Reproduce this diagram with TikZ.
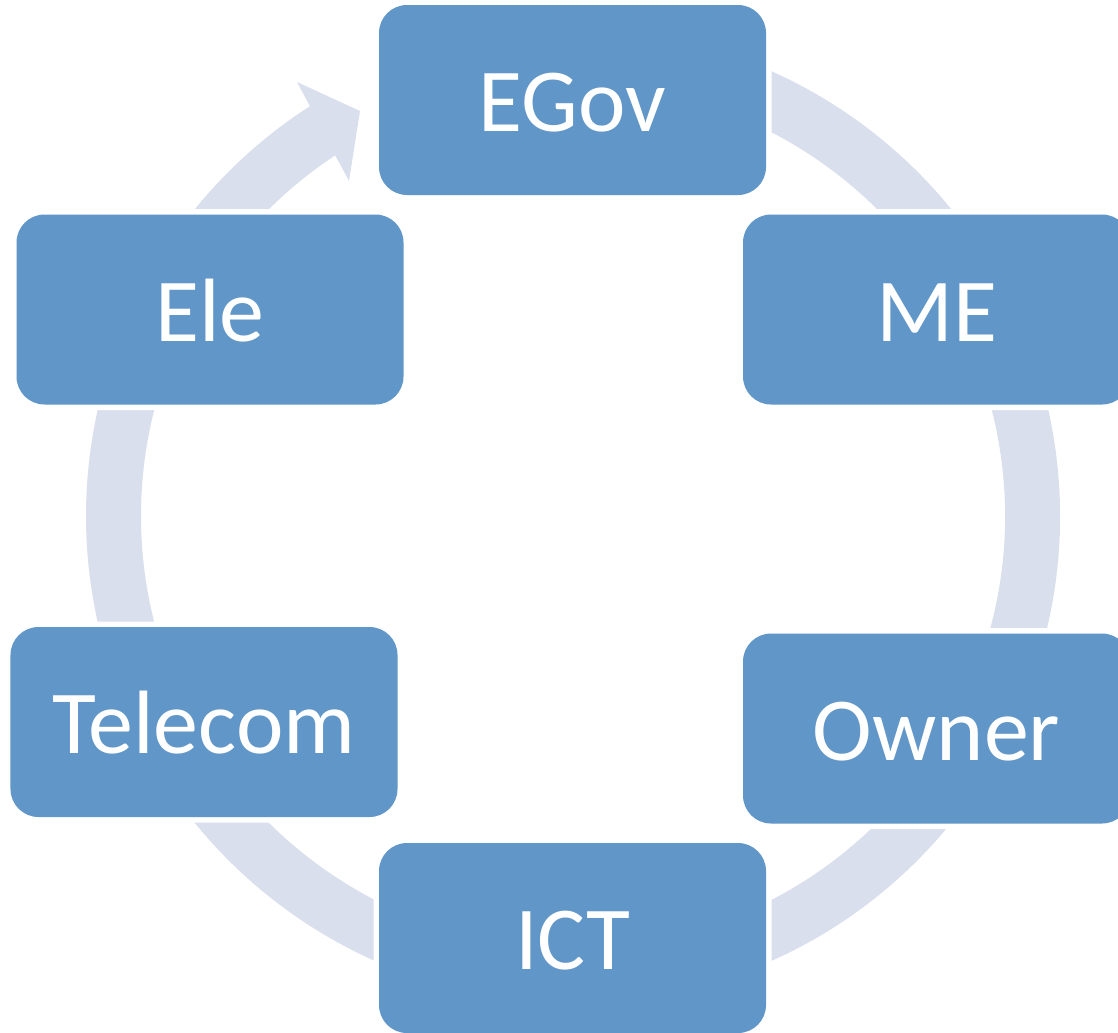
\documentclass[tikz,border=0pt]{standalone}
\usepackage{fontspec}
\setmainfont{Carlito}

\definecolor{boxblue}{RGB}{96,150,200}
\definecolor{ringblue}{RGB}{218,223,237}

\tikzset{
    stage/.style={rounded corners=0.28cm, fill=boxblue, text=white,
        minimum width=3.87cm, minimum height=1.90cm, inner sep=0pt,
        text height=0.63cm, text depth=0pt,
        font=\fontsize{25.6}{30}\selectfont,
        preaction={draw=white, line width=0.11cm}},
    ring/.style={draw=ringblue, line width=0.55cm}
}

\begin{document}
\begin{tikzpicture}[scale=1]
    % Picture frame
    \clip (0,0) rectangle (11.18,10.32);

    % Centre of the cycle
    \coordinate (C) at (5.73,5.16);

    % Ring behind the boxes
    \draw[ring] ([shift={(C)}]100:4.595) arc[start angle=100, end angle=-200, radius=4.595];

    % Arrow piece from Ele to EGov
    \coordinate (flare) at (2.97,9.50);
    \coordinate (tip) at (3.60,9.21);
    \coordinate (back) at (3.49,8.51);
    \fill[ringblue] ([shift={(C)}]165:4.87) arc[start angle=165, end angle=122.7, radius=4.87]
        -- (flare) -- (tip) -- (back)
        -- ([shift={(C)}]123.4:4.32) arc[start angle=123.4, end angle=165, radius=4.32] -- cycle;

    % The six stages
    \node[stage] (egov) at (5.725,9.32) {EGov};
    \node[stage] (me) at (9.365,7.225) {ME};
    \node[stage] (owner) at (9.365,3.035) {Owner};
    \node[stage] (ict) at (5.725,0.94) {ICT};
    \node[stage] (telecom) at (2.04,3.10) {Telecom};
    \node[stage] (ele) at (2.10,7.225) {Ele};
\end{tikzpicture}
\end{document}
